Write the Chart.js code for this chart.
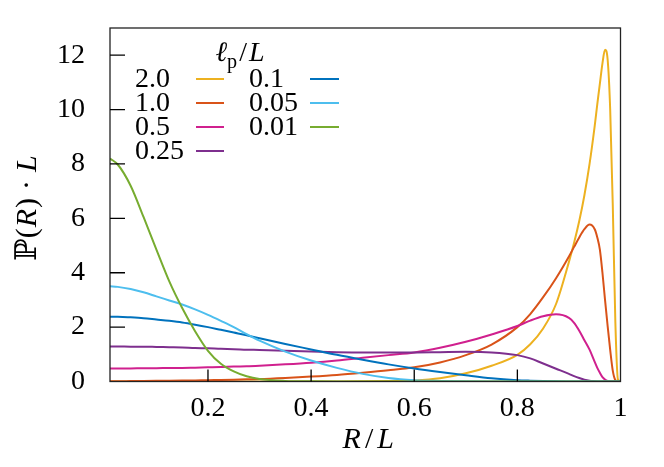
<!DOCTYPE html>
<html><head><meta charset="utf-8">
<script src="https://cdn.jsdelivr.net/npm/chart.js@4.4.1/dist/chart.umd.min.js"></script>
<style>html,body{margin:0;padding:0;background:#fff}#wrap{width:664px;height:467px}</style>
</head><body><div id="wrap"><canvas id="c" width="664" height="467"></canvas></div>
<script>
const R = [0.01,0.025,0.05,0.075,0.1,0.125,0.15,0.175,0.2,0.225,0.25,0.275,0.3,0.35,0.4,0.45,0.5,0.55,0.6,0.65,0.7,0.75,0.8,0.825,0.85,0.875,0.9,0.91,0.92,0.93,0.94,0.95,0.955,0.96,0.965,0.97,0.975,0.98,0.985,0.99,0.995,1.0];
const P_2_0 = [0,0,0,0,0,0,0,0,0,0,0,0,0,0,0,0.002,0.005,0.015,0.04,0.12,0.3,0.58,0.98,1.37,1.95,2.85,4.4,5.1,5.9,6.85,8.0,9.4,10.2,10.95,11.7,12.2,11.85,10.0,6.5,2.2,0.08,0];
const P_1_0 = [0.01,0.01,0.015,0.02,0.025,0.03,0.035,0.04,0.05,0.055,0.065,0.08,0.09,0.13,0.18,0.24,0.32,0.41,0.52,0.7,0.97,1.36,2.0,2.48,3.1,3.8,4.6,4.95,5.3,5.6,5.77,5.6,5.3,4.85,4.0,3.0,2.05,1.16,0.4,0.05,0,0];
const P_0_5 = [0.48,0.48,0.48,0.49,0.49,0.5,0.5,0.51,0.52,0.53,0.55,0.56,0.58,0.63,0.69,0.77,0.87,0.97,1.07,1.24,1.46,1.73,2.04,2.24,2.4,2.47,2.34,2.16,1.87,1.52,1.17,0.72,0.5,0.32,0.16,0.07,0.02,0.005,0,0,0,0];
const P_0_25 = [1.29,1.29,1.28,1.28,1.27,1.26,1.25,1.23,1.22,1.2,1.19,1.17,1.16,1.13,1.1,1.08,1.07,1.07,1.07,1.08,1.09,1.07,0.97,0.85,0.66,0.47,0.28,0.2,0.13,0.07,0.03,0.01,0,0,0,0,0,0,0,0,0,0];
const P_0_1 = [2.38,2.38,2.36,2.33,2.28,2.23,2.17,2.09,2.0,1.9,1.8,1.7,1.59,1.38,1.18,0.98,0.8,0.63,0.48,0.35,0.23,0.12,0.05,0.03,0.015,0.005,0,0,0,0,0,0,0,0,0,0,0,0,0,0,0,0];
const P_0_05 = [3.5,3.48,3.4,3.28,3.13,2.98,2.83,2.65,2.45,2.23,2.0,1.74,1.5,1.1,0.77,0.5,0.28,0.13,0.05,0.02,0.005,0,0,0,0,0,0,0,0,0,0,0,0,0,0,0,0,0,0,0,0,0];
const P_0_01 = [8.2,7.98,7.2,6.05,4.85,3.68,2.7,1.85,1.13,0.65,0.37,0.19,0.09,0.02,0.005,0,0,0,0,0,0,0,0,0,0,0,0,0,0,0,0,0,0,0,0,0,0,0,0,0,0,0];
const seriesLabels = ['2.0','1.0','0.5','0.25','0.1','0.05','0.01'];
const seriesValues = [P_2_0,P_1_0,P_0_5,P_0_25,P_0_1,P_0_05,P_0_01];
const seriesColors = ['#EDB120','#D95319','#D0208E','#7E2F8E','#0072BD','#4DBEEE','#77AC30'];
const xTicks = [0.2,0.4,0.6,0.8,1];
const yTicks = [0,2,4,6,8,10,12];

const SERIF = '"Liberation Serif", "DejaVu Serif", serif';
const FS = 28;
const TFS = 30;

const datasets = seriesValues.map((vals,i)=>({
  label: seriesLabels[i],
  data: R.map((r,j)=>({x:r,y:vals[j]})),
  borderColor: seriesColors[i],
  backgroundColor: seriesColors[i],
  borderWidth: 2,
  pointRadius: 0,
  fill: false,
  cubicInterpolationMode: 'monotone',
  order: seriesValues.length - i
}));

function drawSegs(ctx, segs, x, y, align){
  let total = 0;
  segs.forEach(s=>{ctx.font=s[1]; total += ctx.measureText(s[0]).width + (s[3]||0)*2;});
  let cx = align==='center' ? x-total/2 : x;
  segs.forEach(s=>{ctx.font=s[1]; cx += (s[3]||0); ctx.fillText(s[0], cx, y + (s[2]||0)); cx += ctx.measureText(s[0]).width + (s[3]||0);});
}

const decor = {
  id:'decor',
  afterDraw(chart){
    const {ctx, chartArea:a, scales:{x,y}} = chart;
    ctx.save();
    ctx.strokeStyle = '#222'; ctx.lineWidth = 1.3;
    ctx.strokeRect(a.left, a.top, a.right-a.left, a.bottom-a.top);
    ctx.strokeStyle = '#000'; ctx.lineWidth = 1.3;
    ctx.beginPath();
    xTicks.forEach(v=>{ if (v>=1) return; const px=x.getPixelForValue(v); ctx.moveTo(px,a.bottom); ctx.lineTo(px,a.bottom-12);});
    yTicks.forEach(v=>{ if (v<=0) return; const py=y.getPixelForValue(v); ctx.moveTo(a.left,py); ctx.lineTo(a.left+15,py);});
    ctx.stroke();
    ctx.fillStyle = '#000';
    ctx.textBaseline = 'alphabetic';
    const it = 'italic '+TFS+'px '+SERIF, up = TFS+'px '+SERIF;
    drawSegs(ctx, [['R',it],['/',up,0,4],['L',it]], (a.left+a.right)/2 + 3, 448, 'center');
    ctx.save();
    ctx.translate(36, 208);
    ctx.rotate(-Math.PI/2);
    drawSegs(ctx, [['\u2119',up,0,0],['(',up],['R',it,0,1],[')',up],['\u00B7',up,0,8],['L',it]], 0, 0, 'center');
    ctx.restore();
    const lit = 'italic '+FS+'px '+SERIF, lup = FS+'px '+SERIF;
    drawSegs(ctx, [['\u2113',lit],['p',(FS*0.72)+'px '+SERIF, 7],['/',lup,0,2],['L',lit]], 240, 61, 'center');
    const cols = [{tx:135, lx0:196, lx1:224},{tx:249, lx0:310, lx1:339}];
    const rows = [79,103,127,151];
    chart.data.datasets.forEach((d,i)=>{
      const c = i<4 ? cols[0] : cols[1];
      const ry = rows[i<4 ? i : i-4];
      ctx.font = lup; ctx.textBaseline='middle'; ctx.textAlign='left';
      ctx.fillStyle = '#000';
      ctx.fillText(d.label, c.tx, ry+1);
      ctx.strokeStyle = d.borderColor; ctx.lineWidth = 2;
      ctx.beginPath(); ctx.moveTo(c.lx0, ry); ctx.lineTo(c.lx1, ry); ctx.stroke();
    });
    ctx.restore();
  }
};

new Chart(document.getElementById('c'), {
  type: 'line',
  data: { datasets },
  options: {
    responsive: false,
    animation: false,
    devicePixelRatio: 1,
    layout: { padding: { top: 28, right: 43.5, left: 0, bottom: 0 } },
    plugins: { legend: { display: false }, tooltip: { enabled: false }, title: { display: false } },
    scales: {
      x: {
        type: 'linear', min: 0.01, max: 1,
        afterFit: s => { s.height = 85.5; s.paddingLeft = 0; s.paddingRight = 0; },
        afterBuildTicks: s => { s.ticks = xTicks.map(v=>({value:v})); },
        grid: { display: false, drawTicks: false },
        border: { display: false },
        ticks: { padding: 10, color: '#000', font: { family: SERIF, size: FS }, maxRotation: 0, autoSkip: false,
          callback: v => String(v) }
      },
      y: {
        type: 'linear', min: 0, max: 13,
        afterFit: s => { s.width = 110; s.paddingTop = 0; s.paddingBottom = 0; },
        afterBuildTicks: s => { s.ticks = yTicks.map(v=>({value:v})); },
        grid: { display: false, drawTicks: false },
        border: { display: false },
        ticks: { padding: 25, color: '#000', font: { family: SERIF, size: FS }, autoSkip: false,
          callback: v => String(v) }
      }
    }
  },
  plugins: [decor]
});
</script></body></html>
